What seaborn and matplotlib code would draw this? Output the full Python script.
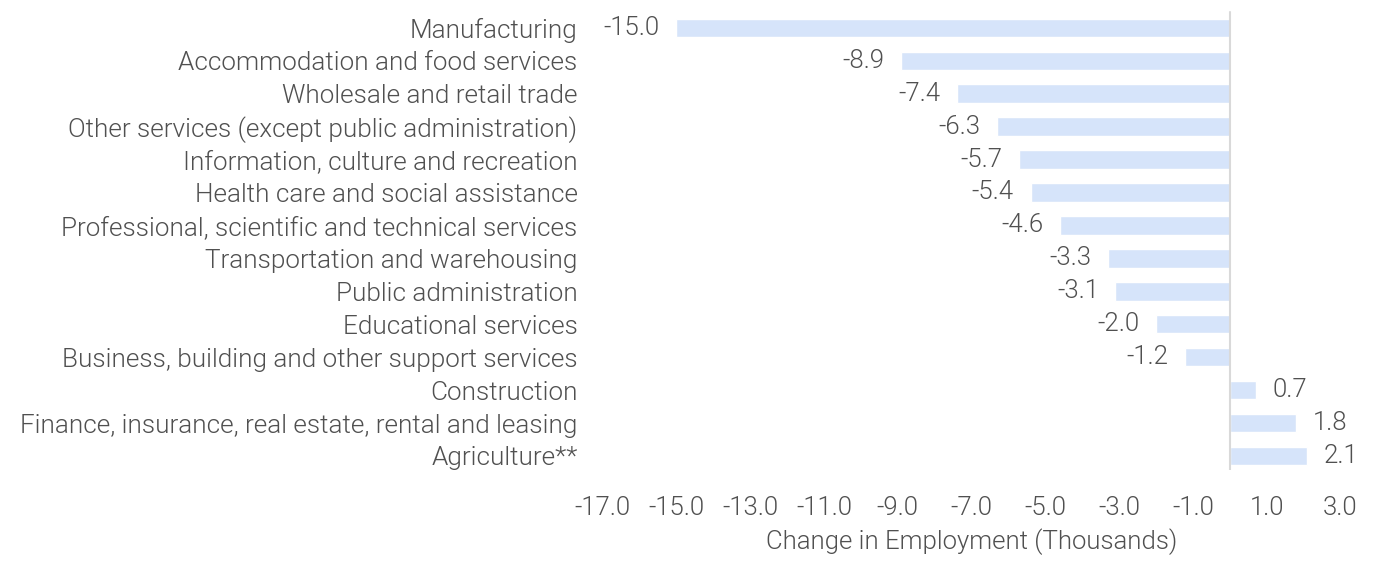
import matplotlib
matplotlib.use("Agg")
import matplotlib.pyplot as plt
import seaborn as sns
import pandas as pd

industries = [
    "Manufacturing",
    "Accommodation and food services",
    "Wholesale and retail trade",
    "Other services (except public administration)",
    "Information, culture and recreation",
    "Health care and social assistance",
    "Professional, scientific and technical services",
    "Transportation and warehousing",
    "Public administration",
    "Educational services",
    "Business, building and other support services",
    "Construction",
    "Finance, insurance, real estate, rental and leasing",
    "Agriculture**",
]
changes = [-15.0, -8.9, -7.4, -6.3, -5.7, -5.4, -4.6, -3.3, -3.1, -2.0, -1.2, 0.7, 1.8, 2.1]
x_ticks = [-17, -15, -13, -11, -9, -7, -5, -3, -1, 1, 3]

df = pd.DataFrame({"industry": industries, "change": changes})

sns.set_theme(style="white")
plt.rcParams["font.family"] = ["Roboto", "DejaVu Sans"]
plt.rcParams["font.weight"] = 300
text_color = "#505050"
fs = 18.5

fig, ax = plt.subplots(figsize=(13.79, 5.63), dpi=100)
sns.barplot(data=df, y="industry", x="change", color="#D6E4FA", saturation=1,
            width=0.56, ax=ax, orient="h")

# zero line
ax.axvline(0, color="#D9D9D9", lw=1.5, ymin=0.0, ymax=0.98)

# value labels
for i, v in enumerate(changes):
    if v < 0:
        ax.text(v - 0.45, i, f"{v:.1f}", ha="right", va="center", fontsize=fs,
                color=text_color, fontweight=300)
    else:
        ax.text(v + 0.45, i, f"{v:.1f}", ha="left", va="center", fontsize=fs,
                color=text_color, fontweight=300)

ax.set_xlim(-17, 3)
ax.set_ylim(13.43, -0.76)
ax.set_xticks(x_ticks)
ax.set_xticklabels([f"{t:.1f}" for t in x_ticks], fontsize=fs, color=text_color, fontweight=300)
ax.tick_params(axis="x", pad=19, length=0)
ax.tick_params(axis="y", length=0, pad=18, labelsize=18.8, labelcolor=text_color)
for lbl in ax.get_yticklabels():
    lbl.set_fontweight(300)
ax.set_ylabel("")
ax.set_xlabel("Change in Employment (Thousands)", fontsize=fs, color=text_color, fontweight=300)
ax.xaxis.set_label_coords(0.5, -0.125)
for s in ax.spines.values():
    s.set_visible(False)

plt.subplots_adjust(left=0.437, right=0.972, top=0.995, bottom=0.165)
plt.savefig("out.png", dpi=100)
